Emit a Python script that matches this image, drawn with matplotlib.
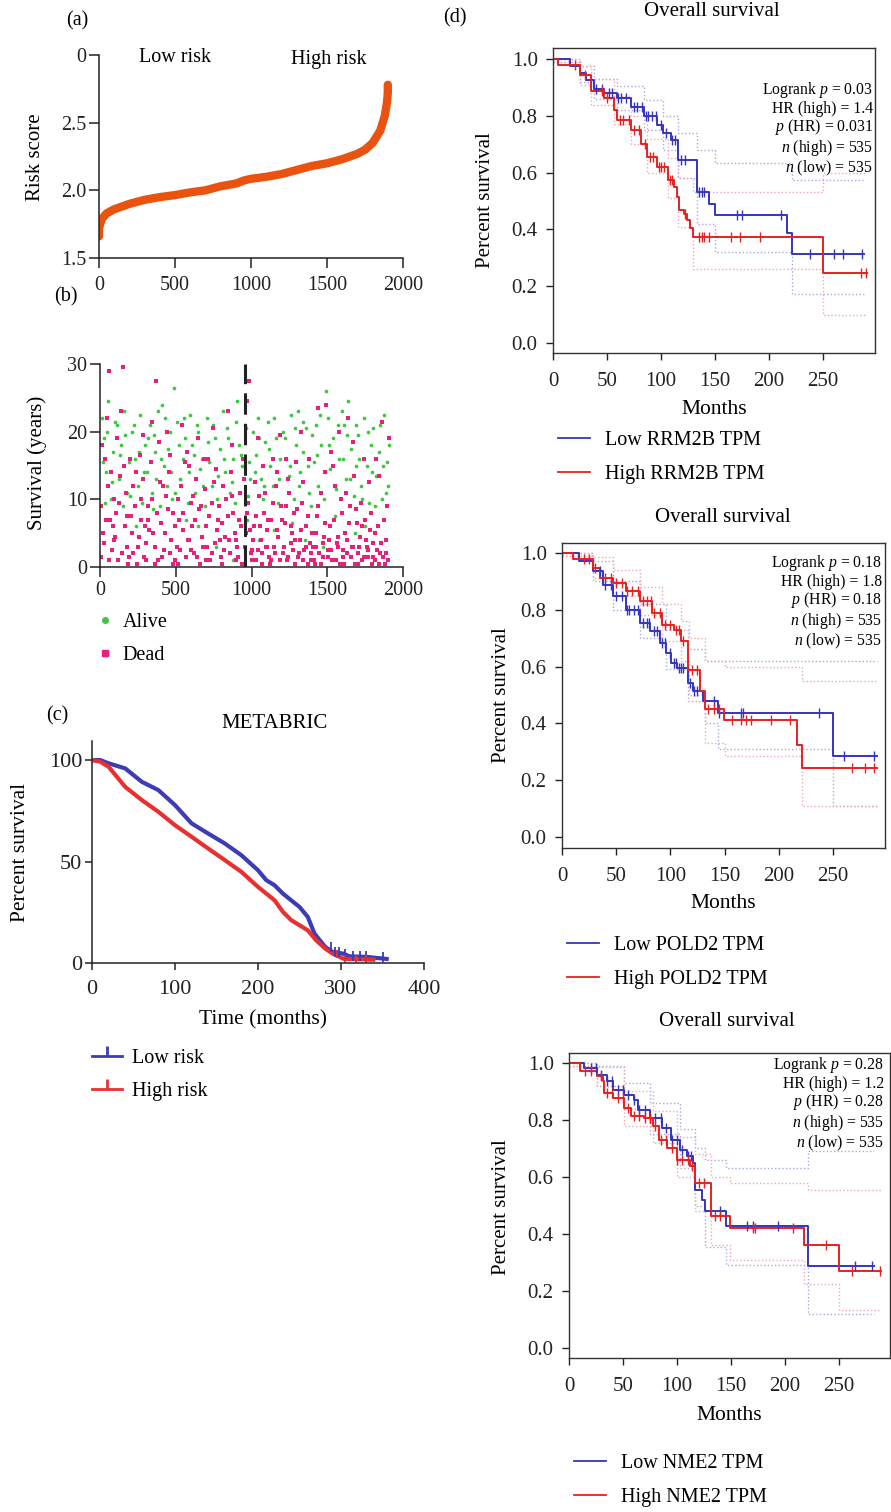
import numpy as np
import matplotlib
matplotlib.use("Agg")
import matplotlib.pyplot as plt
from matplotlib.lines import Line2D
from matplotlib.patches import ConnectionPatch

plt.rcParams['font.family'] = ['Liberation Serif', 'DejaVu Serif']
plt.rcParams['mathtext.fontset'] = 'custom'
plt.rcParams['mathtext.rm'] = 'Liberation Serif'
plt.rcParams['mathtext.it'] = 'Liberation Serif:italic'

# ---------------- data ----------------
# (a) sorted risk score
risk_idx = [0, 0, 10, 20, 50, 100, 200, 300, 400, 500, 600, 700, 800, 900, 960, 1000, 1100,
            1200, 1300, 1400, 1500, 1600, 1700, 1750, 1800, 1850, 1880, 1895, 1900, 1900]
risk_val = [1.66, 1.72, 1.76, 1.79, 1.83, 1.86, 1.90, 1.93, 1.95, 1.965, 1.985, 2.00, 2.03, 2.05,
            2.075, 2.085, 2.10, 2.12, 2.15, 2.18, 2.20, 2.23, 2.27, 2.30, 2.35, 2.44, 2.55, 2.65, 2.72, 2.78]
risk_cut = 958

# (b) survival status
alive_idx = [12, 25, 40, 55, 70, 85, 30, 110, 125, 140, 160, 175, 190, 150, 210, 230, 250, 265, 280, 295, 240,
             310, 330, 345, 365, 380, 395, 355, 410, 425, 440, 460, 475, 490, 450, 510, 530, 545, 560, 580, 595, 570,
             610, 625, 640, 660, 675, 690, 650, 705, 720, 740, 760, 775, 790, 765, 810, 825, 840, 860, 875, 890, 880,
             905, 920, 940, 955, 975, 990, 970, 1010, 1030, 1045, 1060, 1075, 1090, 1050,
             1110, 1125, 1140, 1160, 1175, 1190, 1150, 1210, 1225, 1245, 1260, 1280, 1295, 1270,
             1305, 1320, 1340, 1360, 1380, 1395, 1350, 1410, 1425, 1440, 1460, 1480, 1495, 1470,
             1505, 1520, 1540, 1560, 1580, 1595, 1550, 1610, 1625, 1640, 1660, 1675, 1690, 1680,
             1705, 1720, 1740, 1760, 1775, 1790, 1750, 1805, 1820, 1840, 1860, 1875, 1895, 1900, 1905]
alive_yrs = [22, 19, 14, 24.5, 10, 17, 9.5, 21, 13, 18, 23, 11, 15.5, 9, 20, 16, 12, 22.5, 9.5, 18, 6,
             14, 21, 11, 17, 23, 9, 19.5, 24, 15, 12, 20, 10, 26.5, 17.5, 21.5, 13, 16, 19, 9.5, 22.5, 7,
             18, 11, 21, 14.5, 16, 9, 6, 22, 15.5, 12, 19, 10, 17.5, 3, 23, 14, 20.5, 11, 16, 9.5, 1,
             24.5, 18, 15, 21, 10.5, 13, 7, 20, 16.5, 22, 13, 10, 18.5, 4,
             21.5, 15, 12, 19, 9.5, 16, 5.5, 20, 16, 13.5, 22.5, 10, 18, 6.5,
             23, 14, 17, 20.5, 11, 9, 4, 15.5, 21, 12, 18, 10, 26, 3,
             22, 14.5, 19, 11.5, 16, 23, 7.5, 21, 13, 24.5, 17.5, 10.5, 15, 5,
             19.5, 12, 22, 15, 9.5, 18, 6, 20.5, 13.5, 17, 10, 22.5, 15.5, 12, 18]
alive_more = [(18, 15.5), (48, 20), (78, 12.5), (98, 21.5), (132, 16.5), (168, 19.5), (198, 10.5), (222, 21),
              (258, 17), (288, 14), (318, 19), (348, 8.5), (372, 13), (402, 16), (432, 22), (468, 14), (498, 11),
              (522, 18), (552, 22), (588, 14), (618, 16.5), (648, 20), (682, 12), (712, 18.5), (748, 21),
              (782, 13.5), (818, 16), (848, 19), (872, 12.5), (898, 21.5), (928, 16.5), (962, 20.5), (982, 15.5),
              (1022, 14), (1052, 19), (1082, 12), (1118, 17.5), (1148, 22), (1182, 13), (1218, 19), (1252, 15),
              (1288, 20.5), (1312, 12), (1342, 21.5), (1372, 15), (1402, 19.5), (1432, 16.5), (1452, 22.5),
              (1488, 14), (1512, 18), (1548, 12), (1572, 21), (1602, 16), (1632, 19.5), (1652, 13), (1688, 21),
              (1712, 16), (1732, 10), (1768, 20), (1798, 14), (1812, 9), (1848, 21), (1868, 15), (1888, 11)]
dead_idx = [8, 20, 35, 50, 65, 80, 95, 45, 60, 15, 90, 105, 120, 135, 150, 165, 180, 195, 115, 170, 140, 185,
            205, 220, 235, 255, 270, 285, 298, 245, 262, 215, 290, 305, 320, 335, 350, 370, 385, 398, 340, 315, 360, 390,
            405, 420, 435, 455, 470, 485, 498, 445, 465, 415, 480, 505, 520, 535, 550, 565, 585, 598, 540, 575, 515, 590,
            605, 620, 635, 655, 670, 685, 698, 645, 615, 690, 660, 705, 722, 738, 755, 770, 785, 798, 745, 765, 712, 790,
            805, 818, 832, 850, 866, 880, 895, 845, 870, 810, 888, 905, 918, 935, 948, 962, 978, 995, 945, 985, 925, 970,
            1005, 1018, 1032, 1048, 1062, 1078, 1095, 1040, 1085, 1025, 1070, 1105, 1118, 1132, 1148, 1162, 1178, 1195, 1140, 1185, 1120, 1170,
            1205, 1218, 1232, 1248, 1262, 1278, 1295, 1240, 1285, 1225, 1270, 1305, 1318, 1332, 1348, 1362, 1378, 1395, 1340, 1385, 1325, 1370,
            1405, 1418, 1432, 1448, 1462, 1478, 1495, 1440, 1485, 1425, 1470, 1505, 1518, 1532, 1548, 1562, 1578, 1595, 1540, 1585, 1525, 1570,
            1605, 1618, 1632, 1648, 1662, 1678, 1695, 1640, 1685, 1625, 1670, 1705, 1718, 1732, 1748, 1762, 1778, 1795, 1740, 1785, 1725, 1770,
            1805, 1818, 1832, 1848, 1862, 1878, 1895, 1840, 1885, 1825, 1870, 1905]
dead_yrs = [1.5, 5, 16, 12, 7, 2.5, 10, 22, 29, 18, 4, 8, 1, 13.5, 29.5, 6, 3, 16, 19, 11, 23, 0.5,
            7.5, 2, 14, 4.5, 10, 19.5, 6, 0.5, 16.5, 12, 1.5, 3.5, 9, 15.5, 5, 27.5, 1, 12.5, 21.5, 7, 0.5, 18.5,
            6.5, 2.5, 10.5, 14, 4, 8, 1, 20, 16.5, 12, 0.5, 3, 7, 12, 5.5, 1.5, 15, 9.5, 21, 17, 0.5, 4,
            6, 2, 13, 8.5, 4.5, 16, 1, 19, 10.5, 11.5, 0.5, 3, 7.5, 2, 12.5, 5.5, 9, 1.5, 20.5, 14.5, 16, 4,
            6.5, 2.5, 10, 4, 14, 8, 1, 23, 18, 12, 5, 3, 7, 0.5, 13, 5, 9.5, 2, 16, 27.5, 11, 24.5,
            2.5, 6, 1, 10.5, 4, 15, 3, 19, 8, 12.5, 0.5, 5.5, 1.5, 7, 3, 12, 4.5, 9, 16, 19.5, 0.5, 14,
            2, 6.5, 1, 11, 3.5, 8, 15.5, 13, 0.5, 16, 5, 1.5, 4, 9.5, 2.5, 6, 16, 1, 12.5, 3.5, 20, 0.5,
            3, 0.5, 7.5, 2, 11, 4.5, 24, 23.5, 14, 5, 1.5, 2.5, 6, 1, 12, 3.5, 20, 8, 15, 0.5, 17, 4.5,
            1.5, 5, 2, 9, 3, 13.5, 6.5, 22, 0.5, 11, 18.5, 2, 4.5, 1, 7, 3, 12.5, 0.5, 16, 5.5, 9.5, 1.5,
            3.5, 1, 6, 2, 21.5, 0.5, 9, 13.5, 4, 16, 1.5, 19]
dead_more = [(5, 9), (28, 3.5), (42, 7), (58, 1), (72, 14), (88, 6), (102, 4.5), (128, 9.5), (145, 2), (158, 15),
             (178, 7.5), (192, 1.5), (208, 5), (228, 9), (248, 3), (268, 7), (282, 13), (302, 1), (325, 5.5),
             (342, 10), (365, 3), (378, 8), (408, 1.5), (428, 5), (448, 8.5), (462, 2), (492, 6), (512, 10),
             (528, 2.5), (548, 8), (562, 15.5), (578, 4), (602, 2.5), (628, 7), (642, 1.5), (668, 9), (678, 3),
             (702, 6), (728, 1), (742, 9.5), (762, 3.5), (778, 7), (802, 0.5), (828, 4.5), (842, 7.5), (858, 2),
             (872, 10.5), (898, 4), (912, 1.5), (932, 6), (955, 3), (968, 8), (988, 5.5), (1002, 1), (1012, 4),
             (1028, 7.5), (1042, 2.5), (1058, 6), (1072, 2), (1088, 11), (1102, 3), (1112, 7), (1128, 1),
             (1145, 9.5), (1155, 2), (1168, 5.5), (1188, 1), (1202, 7), (1212, 3), (1228, 9), (1242, 1.5),
             (1258, 6), (1275, 2.5), (1290, 4), (1302, 8.5), (1312, 2), (1328, 5.5), (1342, 1), (1358, 3),
             (1372, 7.5), (1390, 2), (1402, 5), (1412, 1), (1428, 3), (1442, 9), (1458, 0.5), (1472, 3.5),
             (1488, 6.5), (1502, 1.5), (1512, 4), (1528, 2.5), (1542, 7), (1558, 1), (1572, 3), (1588, 10),
             (1602, 2.5), (1612, 0.5), (1628, 4), (1642, 6.5), (1658, 1.5), (1672, 3), (1688, 8.5), (1702, 0.5),
             (1712, 3), (1728, 6), (1742, 1.5), (1758, 4), (1772, 2.5), (1788, 8), (1802, 1.5), (1812, 5),
             (1828, 2.5), (1842, 0.5), (1858, 3.5), (1872, 7), (1888, 2), (1898, 1)]

# (c) METABRIC Kaplan-Meier (percent)
meta_low_t = [0, 10, 20, 40, 60, 80, 100, 120, 140, 160, 180, 200, 210, 220, 230, 250, 260, 268, 281, 290, 303, 310, 331, 355]
meta_low_s = [100, 100, 98.4, 95.9, 89.3, 85.2, 77.8, 68.8, 63.8, 58.9, 53.1, 45.7, 40.8, 38.3, 34.2, 27.6, 22.7, 14.5, 7.9, 5.4, 4.6, 3.3, 3.0, 2.0]
meta_high_t = [0, 10, 20, 40, 60, 80, 100, 120, 140, 160, 180, 200, 220, 230, 240, 260, 270, 281, 290, 303, 339]
meta_high_s = [100, 99.2, 96.7, 86.8, 80.3, 74.5, 67.9, 62.2, 56.4, 50.7, 44.9, 37.5, 30.9, 25.2, 21.1, 16.1, 11.2, 7.1, 4.6, 2.1, 1.6]
meta_low_cens = [288, 293, 298, 305, 315, 323, 330, 350]
meta_high_cens = [295, 305, 318, 330]

# (d) GEPIA overall survival: RRM2B, POLD2, NME2
genes = ['RRM2B', 'POLD2', 'NME2']
stats = [('0.03', '1.4', '0.031'), ('0.18', '1.8', '0.18'), ('0.28', '1.2', '0.28')]
n_high, n_low = 535, 535

rrm2b_low_t = [0, 16, 25, 31, 38, 47, 59, 72, 84, 96, 102, 109, 116, 133, 144, 150, 217, 221]
rrm2b_low_s = [1.0, 0.974, 0.95, 0.927, 0.894, 0.88, 0.862, 0.833, 0.80, 0.768, 0.74, 0.715, 0.645, 0.533, 0.49, 0.45, 0.386, 0.315]
rrm2b_low_end = 288
rrm2b_high_t = [0, 5, 25, 35, 47, 56, 59, 72, 81, 87, 96, 106, 112, 115, 117, 121, 124, 127, 130, 250]
rrm2b_high_s = [1.0, 0.98, 0.945, 0.886, 0.862, 0.82, 0.786, 0.75, 0.70, 0.656, 0.62, 0.574, 0.55, 0.515, 0.468, 0.456, 0.433, 0.404, 0.374, 0.245]
rrm2b_high_end = 291
rrm2b_low_ci_t = [0, 25, 38, 59, 84, 102, 116, 133, 150, 221]
rrm2b_low_ci_hi = [1.0, 0.975, 0.93, 0.905, 0.855, 0.80, 0.74, 0.68, 0.633, 0.574]
rrm2b_low_ci_lo = [0.99, 0.92, 0.86, 0.82, 0.75, 0.68, 0.58, 0.42, 0.32, 0.174]
rrm2b_high_ci_t = [0, 25, 35, 56, 72, 87, 106, 116, 130, 250]
rrm2b_high_ci_hi = [1.0, 0.975, 0.93, 0.87, 0.80, 0.72, 0.65, 0.58, 0.533, 0.60]
rrm2b_high_ci_lo = [0.99, 0.91, 0.84, 0.77, 0.70, 0.60, 0.51, 0.41, 0.262, 0.098]
rrm2b_low_cens = [40, 45, 52, 55, 60, 63, 68, 75, 78, 82, 86, 88, 92, 95, 100, 105, 110, 113, 118, 122, 135, 138, 140, 170, 175, 211, 238, 260, 268, 286]
rrm2b_high_cens = [20, 30, 45, 50, 62, 65, 70, 75, 80, 85, 90, 93, 98, 100, 103, 108, 110, 122, 135, 138, 140, 144, 165, 173, 192, 285, 290]

pold2_low_t = [0, 16, 29, 38, 47, 59, 72, 81, 90, 96, 101, 106, 116.5, 121, 130, 144, 250]
pold2_low_s = [1.0, 0.97, 0.935, 0.888, 0.847, 0.80, 0.753, 0.724, 0.683, 0.648, 0.613, 0.595, 0.542, 0.513, 0.478, 0.435, 0.284]
pold2_low_end = 291
pold2_high_t = [0, 10, 29, 35, 47, 59, 72, 83, 92, 103, 110, 116.5, 127, 132, 149, 217, 221]
pold2_high_s = [1.0, 0.98, 0.947, 0.912, 0.894, 0.865, 0.83, 0.789, 0.748, 0.73, 0.689, 0.589, 0.513, 0.45, 0.41, 0.325, 0.243]
pold2_high_end = 291
pold2_low_ci_t = [0, 29, 47, 72, 96, 116, 132, 144, 250]
pold2_low_ci_hi = [1.0, 0.97, 0.90, 0.82, 0.73, 0.66, 0.62, 0.62, 0.62]
pold2_low_ci_lo = [0.99, 0.90, 0.80, 0.70, 0.59, 0.48, 0.40, 0.31, 0.11]
pold2_high_ci_t = [0, 29, 47, 72, 92, 110, 117, 132, 150, 221]
pold2_high_ci_hi = [1.0, 0.985, 0.94, 0.88, 0.82, 0.76, 0.70, 0.62, 0.60, 0.548]
pold2_high_ci_lo = [0.99, 0.91, 0.85, 0.78, 0.69, 0.62, 0.50, 0.33, 0.285, 0.11]
pold2_low_cens = [35, 40, 45, 50, 55, 60, 62, 66, 70, 75, 78, 80, 85, 88, 92, 95, 100, 103, 105, 108, 110, 112, 118, 122, 125, 140, 145, 165, 167, 237, 260, 288]
pold2_high_cens = [20, 25, 30, 40, 45, 50, 55, 60, 65, 70, 75, 78, 82, 85, 90, 95, 100, 105, 108, 112, 120, 125, 135, 140, 145, 157, 165, 170, 174, 193, 210, 268, 280, 288]

nme2_low_t = [0, 14, 26, 35, 41, 51, 60, 64, 75, 86, 94, 103, 109, 115, 117, 123, 126, 145, 221]
nme2_low_s = [1.0, 0.982, 0.959, 0.936, 0.906, 0.889, 0.871, 0.836, 0.807, 0.772, 0.731, 0.696, 0.672, 0.649, 0.556, 0.52, 0.48, 0.427, 0.287]
nme2_low_end = 282
nme2_high_t = [0, 10, 26, 31, 32, 41, 51, 57, 69, 78, 83, 91, 100, 112, 117, 131, 149, 217, 250]
nme2_high_s = [1.0, 0.971, 0.953, 0.936, 0.895, 0.877, 0.842, 0.813, 0.807, 0.778, 0.731, 0.702, 0.661, 0.637, 0.579, 0.462, 0.421, 0.363, 0.271]
nme2_high_end = 289
nme2_low_ci_t = [0, 26, 51, 75, 103, 117, 126, 145, 221]
nme2_low_ci_hi = [1.0, 0.99, 0.93, 0.86, 0.77, 0.70, 0.66, 0.63, 0.69]
nme2_low_ci_lo = [0.99, 0.92, 0.84, 0.75, 0.63, 0.50, 0.354, 0.292, 0.12]
nme2_high_ci_t = [0, 26, 51, 78, 100, 117, 131, 149, 217, 221, 250]
nme2_high_ci_hi = [1.0, 0.985, 0.90, 0.83, 0.74, 0.68, 0.60, 0.58, 0.58, 0.555, 0.555]
nme2_high_ci_lo = [0.99, 0.92, 0.78, 0.72, 0.60, 0.48, 0.36, 0.31, 0.225, 0.225, 0.135]
nme2_low_cens = [20, 25, 30, 35, 40, 45, 50, 55, 60, 65, 70, 75, 80, 85, 90, 95, 100, 105, 110, 113, 140, 165, 170, 193, 265, 280]
nme2_high_cens = [15, 20, 30, 35, 40, 45, 50, 55, 60, 65, 70, 75, 80, 85, 90, 95, 100, 105, 110, 114, 120, 125, 135, 140, 170, 172, 207, 238, 262, 288]

# ---------------- layout helpers ----------------
W, H = 891, 1512
fig = plt.figure(figsize=(W / 100, H / 100), dpi=100)


def add_px(l, t, r, b):
    return fig.add_axes([l / W, 1 - b / H, (r - l) / W, (b - t) / H])


def ftext(x, y, s, **kw):
    kw.setdefault('ha', 'center')
    kw.setdefault('va', 'center')
    fig.text(x / W, 1 - y / H, s, **kw)


def style_open(ax, size=14.5, xpad=3, ypad=3, length=6):
    for side in ['top', 'right']:
        ax.spines[side].set_visible(False)
    for side in ['left', 'bottom']:
        ax.spines[side].set_color('#222222')
        ax.spines[side].set_linewidth(1.1)
    ax.tick_params(direction='out', length=length, width=1.1, labelsize=size, colors='#222222')
    ax.tick_params(axis='x', pad=xpad)
    ax.tick_params(axis='y', pad=ypad)


def surv_at(t, s, c):
    idx = np.searchsorted(t, c, side='right') - 1
    return np.array(s)[idx]


ORANGE = '#e9530f'
GREEN = '#3cc83c'
PINK = '#e8207a'
KM_BLUE = '#3c3cb4'
KM_RED = '#e83030'
D_BLUE = '#3535c0'
D_RED = '#e82020'

# ---------------- (a) ----------------
ax_a = add_px(99, 55, 403, 258)
style_open(ax_a, xpad=6, ypad=2, length=7)
ax_a.plot(risk_idx, risk_val, color=ORANGE, lw=6, solid_capstyle='round', solid_joinstyle='round')
ax_a.set_xlim(0, 2000)
ax_a.set_ylim(1.5, 3.0)
ax_a.set_xticks([0, 500, 1000, 1500, 2000])
ax_a.set_yticks([1.5, 2.0, 2.5, 3.0])
ax_a.set_yticklabels(['1.5', '2.0', '2.5', '0'])
ax_a.text(500, 2.985, 'Low risk', ha='center', va='center', fontsize=14.5)
ax_a.text(1513, 2.965, 'High risk', ha='center', va='center', fontsize=14.5)
ftext(77, 21, '(a)', fontsize=14.5)
ftext(36, 157, 'Risk score', rotation=90, fontsize=15)

# ---------------- (b) ----------------
ax_b = add_px(100, 364, 403, 567)
style_open(ax_b, ypad=2, length=7)
a_x = list(alive_idx) + [p[0] for p in alive_more]
a_y = list(alive_yrs) + [p[1] for p in alive_more]
d_x = list(dead_idx) + [p[0] for p in dead_more]
d_y = list(dead_yrs) + [p[1] for p in dead_more]
ax_b.scatter(a_x, a_y, s=7, color=GREEN, marker='o', linewidths=0, zorder=2)
ax_b.scatter(d_x, d_y, s=8, color=PINK, marker='s', linewidths=0, zorder=2)
ax_b.set_xlim(0, 2000)
ax_b.set_ylim(0, 30)
ax_b.set_xticks([0, 500, 1000, 1500, 2000])
ax_b.set_yticks([0, 10, 20, 30])
ax_b.axvline(risk_cut, color='#222222', lw=2.2, ls=(0, (7, 3)), zorder=3)
ftext(66, 297, '(b)', fontsize=14.5)
ftext(37, 463, 'Survival (years)', rotation=90, fontsize=15)
hb = [Line2D([], [], ls='none', marker='o', color=GREEN, markersize=4),
      Line2D([], [], ls='none', marker='s', color=PINK, markersize=4)]
ax_b.legend(hb, ['Alive', 'Dead'], loc='upper left', bbox_to_anchor=(-0.005, -0.225), frameon=False,
            fontsize=14.5, handlelength=0.6, handletextpad=0.6, labelspacing=0.7, borderpad=0, borderaxespad=0)

con = ConnectionPatch(xyA=(risk_cut, 3.126), coordsA='data', axesA=ax_a,
                      xyB=(risk_cut, 0), coordsB='data', axesB=ax_b,
                      color='#222222', lw=1.3, ls=(0, (13, 4)), zorder=5)
fig.add_artist(con)

# ---------------- (c) ----------------
ax_c = add_px(92, 741, 424, 963)
style_open(ax_c, size=16, xpad=7, ypad=2, length=5)
ax_c.plot(meta_low_t, meta_low_s, color=KM_BLUE, lw=3)
ax_c.plot(meta_high_t, meta_high_s, color=KM_RED, lw=3)
ax_c.plot(meta_low_cens, surv_at(meta_low_t, meta_low_s, meta_low_cens), ls='none', marker='|',
          color=KM_BLUE, markersize=7, mew=1.3)
ax_c.plot(meta_high_cens, surv_at(meta_high_t, meta_high_s, meta_high_cens), ls='none', marker='|',
          color=KM_RED, markersize=6, mew=1.3)
ax_c.set_xlim(0, 400)
ax_c.set_ylim(0, 109.4)
ax_c.set_xticks([0, 100, 200, 300, 400])
ax_c.set_yticks([0, 50, 100])
ftext(57, 716, '(c)', fontsize=14.5)
ftext(274, 723, 'METABRIC', fontsize=15)
ftext(21, 852, 'Percent survival', rotation=90, fontsize=15.5)
ftext(263, 1020, 'Time (months)', fontsize=15.5)
hc = [Line2D([], [], color=KM_BLUE, lw=2, marker=2, markersize=7, mew=2),
      Line2D([], [], color=KM_RED, lw=2, marker=2, markersize=7, mew=2)]
ax_c.legend(hc, ['Low risk', 'High risk'], loc='upper left', bbox_to_anchor=(0.0, -0.385), frameon=False,
            fontsize=14.5, handlelength=1.5, handletextpad=0.5, labelspacing=0.7, borderpad=0, borderaxespad=0)

# ---------------- (d) ----------------
d_boxes = [(553, 48, 875, 353), (562, 543, 885, 848), (569, 1053, 890, 1358)]
d_xmax = [298, 298, 297]
d_ylim = [(-0.035, 1.039), (-0.039, 1.035), (-0.035, 1.035)]
d_titles = [(712, 12), (723, 517), (727, 1022)]
d_ylab = [(486, 200), (502, 695), (502, 1207)]
d_xlab = [(714, 410), (723, 904), (729, 1415)]
d_stat_top = [80, 553, 1055]
d_stat_right = [873, 882, 884]
d_leg_top = [431, 936, 1454]
d_curves = [
    (rrm2b_low_t, rrm2b_low_s, rrm2b_low_end, rrm2b_high_t, rrm2b_high_s, rrm2b_high_end,
     rrm2b_low_ci_t, rrm2b_low_ci_hi, rrm2b_low_ci_lo, rrm2b_high_ci_t, rrm2b_high_ci_hi, rrm2b_high_ci_lo,
     rrm2b_low_cens, rrm2b_high_cens),
    (pold2_low_t, pold2_low_s, pold2_low_end, pold2_high_t, pold2_high_s, pold2_high_end,
     pold2_low_ci_t, pold2_low_ci_hi, pold2_low_ci_lo, pold2_high_ci_t, pold2_high_ci_hi, pold2_high_ci_lo,
     pold2_low_cens, pold2_high_cens),
    (nme2_low_t, nme2_low_s, nme2_low_end, nme2_high_t, nme2_high_s, nme2_high_end,
     nme2_low_ci_t, nme2_low_ci_hi, nme2_low_ci_lo, nme2_high_ci_t, nme2_high_ci_hi, nme2_high_ci_lo,
     nme2_low_cens, nme2_high_cens),
]

ftext(455, 18, '(d)', fontsize=14.5)

for k, gene in enumerate(genes):
    (lt, ls_, lend, ht, hs, hend, lct, lch, lcl, hct, hch, hcl, lcen, hcen) = d_curves[k]
    l, t, r, b = d_boxes[k]
    ax = add_px(l, t, r, b)
    for sp in ax.spines.values():
        sp.set_color('#333333')
        sp.set_linewidth(1.0)
    ax.tick_params(direction='out', length=5, width=1.0, labelsize=15, colors='#222222')
    ax.tick_params(axis='x', pad=9)
    ax.tick_params(axis='y', pad=6)

    # confidence bands (dotted)
    for ct, cv, end, col in [(lct, lch, lend, '#a8a8e0'), (lct, lcl, lend, '#a8a8e0'),
                             (hct, hch, hend, '#f0a8b0'), (hct, hcl, hend, '#f0a8b0')]:
        ax.step(list(ct) + [end], list(cv) + [cv[-1]], where='post', color=col, lw=1.0, ls=(0, (1, 1.6)))

    ax.step(list(lt) + [lend], list(ls_) + [ls_[-1]], where='post', color=D_BLUE, lw=1.4)
    ax.step(list(ht) + [hend], list(hs) + [hs[-1]], where='post', color=D_RED, lw=1.4)
    ax.plot(lcen, surv_at(lt, ls_, lcen), ls='none', marker='|', color=D_BLUE, markersize=7, mew=1.0)
    ax.plot(hcen, surv_at(ht, hs, hcen), ls='none', marker='|', color=D_RED, markersize=7, mew=1.0)

    ax.set_xlim(0, d_xmax[k])
    ax.set_ylim(*d_ylim[k])
    ax.set_xticks([0, 50, 100, 150, 200, 250])
    ax.set_yticks([0.0, 0.2, 0.4, 0.6, 0.8, 1.0])
    ax.set_yticklabels(['0.0', '0.2', '0.4', '0.6', '0.8', '1.0'])

    lr_p, hr, p_hr = stats[k]
    stat_txt = ('Logrank $p$ = %s\nHR (high) = %s\n$p$ (HR) = %s\n$n$ (high) = %d\n$n$ (low) = %d'
                % (lr_p, hr, p_hr, n_high, n_low))
    ftext(d_stat_right[k], d_stat_top[k], stat_txt, ha='right', va='top', fontsize=11.3,
          linespacing=1.05, multialignment='right')

    ftext(*d_titles[k], 'Overall survival', fontsize=15)
    ftext(*d_ylab[k], 'Percent survival', rotation=90, fontsize=15)
    ftext(*d_xlab[k], 'Months', fontsize=15.5)

    hd = [Line2D([], [], color=D_BLUE, lw=1.3), Line2D([], [], color=D_RED, lw=1.3)]
    leg_y = -(d_leg_top[k] - b) / (b - t)
    ax.legend(hd, ['Low %s TPM' % gene, 'High %s TPM' % gene], loc='upper left',
              bbox_to_anchor=(5 / (r - l), leg_y), frameon=False, fontsize=14.5,
              handlelength=1.6, handletextpad=0.75, labelspacing=0.75, borderpad=0, borderaxespad=0)

fig.savefig('out.png', dpi=100)
